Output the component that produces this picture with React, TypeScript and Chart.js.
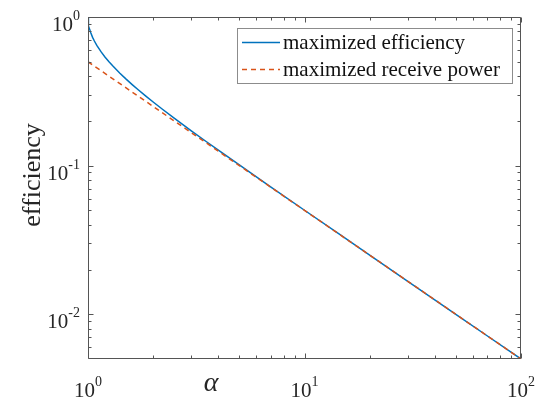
import React, { useEffect, useRef } from "react";
import { Chart, registerables } from "chart.js";

Chart.register(...registerables);

// alpha values and maximized efficiency
const ALPHA_EFF = [1, 1.001, 1.003, 1.005, 1.01, 1.02, 1.03, 1.05, 1.07, 1.1, 1.15, 1.2, 1.25, 1.3, 1.4, 1.5, 1.6, 1.7, 1.85, 2, 2.2, 2.5, 3, 3.5, 4, 5, 7, 10, 15, 20, 30, 50, 70, 100];
const EFF_MAX = [1, 0.9563, 0.9255, 0.9049, 0.8682, 0.819, 0.7832, 0.7298, 0.6893, 0.6417, 0.5821, 0.5367, 0.5, 0.4693, 0.4202, 0.382, 0.351, 0.3252, 0.2936, 0.2679, 0.2404, 0.2087, 0.1716, 0.1459, 0.127, 0.101, 0.0718, 0.0501, 0.0334, 0.025, 0.01667, 0.01, 0.00714, 0.005];

// alpha values and efficiency at maximized receive power
const ALPHA_POW = [1, 1.5, 2, 3, 5, 10, 20, 50, 100];
const POW_MAX = [0.5, 0.3333, 0.25, 0.1667, 0.1, 0.05, 0.025, 0.01, 0.005];

const SERIES_NAMES = ["maximized efficiency", "maximized receive power"];

const X_MAJOR = [1, 10, 100];
const X_MAJOR_EXP = ["0", "1", "2"];
const X_MINOR = [2, 3, 4, 5, 6, 7, 8, 9, 20, 30, 40, 50, 60, 70, 80, 90];
const Y_MAJOR = [0.01, 0.1, 1];
const Y_MAJOR_EXP = ["-2", "-1", "0"];
const Y_MINOR = [0.006, 0.007, 0.008, 0.009, 0.02, 0.03, 0.04, 0.05, 0.06, 0.07, 0.08, 0.09, 0.2, 0.3, 0.4, 0.5, 0.6, 0.7, 0.8, 0.9];

const X_TITLE = "α";
const Y_TITLE = "efficiency";

const BLUE = "#0072BD";
const ORANGE = "#D95319";
const AXIS = "#555555";
const SERIF = "'Liberation Serif', 'Times New Roman', serif";

const matlabPlugin = {
  id: "matlabAxes",
  afterDraw(chart: any) {
    const { ctx, chartArea } = chart;
    const { left, right, top, bottom } = chartArea;
    const xs = chart.scales.x;
    const ys = chart.scales.y;
    ctx.save();
    ctx.strokeStyle = AXIS;
    ctx.lineWidth = 1;
    // box
    const L = Math.round(left) + 0.5;
    const R = Math.round(right) - 0.5;
    const T = Math.round(top) + 0.5;
    const B = Math.round(bottom) - 0.5;
    ctx.beginPath();
    ctx.rect(L, T, R - L, B - T);
    ctx.stroke();
    // ticks
    const xt = (v: number, len: number) => {
      const px = Math.round(xs.getPixelForValue(v)) + 0.5;
      ctx.beginPath();
      ctx.moveTo(px, B);
      ctx.lineTo(px, B - len);
      ctx.moveTo(px, T);
      ctx.lineTo(px, T + len);
      ctx.stroke();
    };
    const yt = (v: number, len: number) => {
      const py = Math.round(ys.getPixelForValue(v)) + 0.5;
      ctx.beginPath();
      ctx.moveTo(L, py);
      ctx.lineTo(L + len, py);
      ctx.moveTo(R, py);
      ctx.lineTo(R - len, py);
      ctx.stroke();
    };
    X_MAJOR.forEach((v) => xt(v, 5));
    X_MINOR.forEach((v) => xt(v, 3));
    Y_MAJOR.forEach((v) => yt(v, 5));
    Y_MINOR.forEach((v) => yt(v, 3));

    // tick labels
    ctx.fillStyle = "#262626";
    ctx.textBaseline = "alphabetic";
    const bigFont = `21px ${SERIF}`;
    const smallFont = `14px ${SERIF}`;
    X_MAJOR.forEach((v, i) => {
      const px = xs.getPixelForValue(v);
      ctx.font = bigFont;
      const w1 = ctx.measureText("10").width;
      ctx.font = smallFont;
      const w2 = ctx.measureText(X_MAJOR_EXP[i]).width;
      const start = px - (w1 + w2) / 2;
      ctx.textAlign = "left";
      ctx.font = bigFont;
      ctx.fillText("10", start, bottom + 38);
      ctx.font = smallFont;
      ctx.fillText(X_MAJOR_EXP[i], start + w1, bottom + 27);
    });
    Y_MAJOR.forEach((v, i) => {
      const py = ys.getPixelForValue(v);
      ctx.font = smallFont;
      const w2 = ctx.measureText(Y_MAJOR_EXP[i]).width;
      ctx.font = bigFont;
      const w1 = ctx.measureText("10").width;
      const end = left - 8;
      ctx.textAlign = "left";
      ctx.fillText("10", end - w2 - w1, py + 14);
      ctx.font = smallFont;
      ctx.fillText(Y_MAJOR_EXP[i], end - w2, py + 3);
    });

    // axis titles
    ctx.textAlign = "center";
    ctx.textBaseline = "middle";
    ctx.font = `italic 28px ${SERIF}`;
    ctx.fillText(X_TITLE, 211, 384);
    ctx.save();
    ctx.translate(33, 175);
    ctx.rotate(-Math.PI / 2);
    ctx.font = `26px ${SERIF}`;
    ctx.fillText(Y_TITLE, 0, 0);
    ctx.restore();

    // legend
    const lx = 237.5, ly = 28.5, lw = 275, lh = 55;
    ctx.fillStyle = "#ffffff";
    ctx.fillRect(lx, ly, lw, lh);
    ctx.strokeStyle = "#8c8c8c";
    ctx.lineWidth = 1;
    ctx.strokeRect(lx, ly, lw, lh);
    const rows = [
      { y: 42.5, color: BLUE, dash: [] as number[] },
      { y: 69.5, color: ORANGE, dash: [5, 4] },
    ];
    rows.forEach((r, i) => {
      ctx.strokeStyle = r.color;
      ctx.lineWidth = 1.3;
      ctx.setLineDash(r.dash);
      ctx.beginPath();
      ctx.moveTo(242, r.y);
      ctx.lineTo(280, r.y);
      ctx.stroke();
      ctx.setLineDash([]);
      ctx.fillStyle = "#111111";
      ctx.font = `21px ${SERIF}`;
      ctx.textAlign = "left";
      ctx.textBaseline = "middle";
      ctx.fillText(SERIES_NAMES[i], 283, r.y + 1);
    });
    ctx.restore();
  },
};

export default function App() {
  const ref = useRef<HTMLCanvasElement>(null);
  useEffect(() => {
    if (!ref.current) return;
    const chart = new Chart(ref.current, {
      type: "line",
      data: {
        datasets: [
          {
            label: SERIES_NAMES[0],
            data: ALPHA_EFF.map((a, i) => ({ x: a, y: EFF_MAX[i] })),
            borderColor: BLUE,
            borderWidth: 1.5,
            pointRadius: 0,
            tension: 0,
            order: 1,
          },
          {
            label: SERIES_NAMES[1],
            data: ALPHA_POW.map((a, i) => ({ x: a, y: POW_MAX[i] })),
            borderColor: ORANGE,
            borderWidth: 1.5,
            borderDash: [5, 4],
            pointRadius: 0,
            tension: 0,
            order: 0,
          },
        ],
      },
      options: {
        animation: false,
        responsive: true,
        maintainAspectRatio: false,
        layout: { padding: { top: 17, right: 30, left: 0, bottom: 0 } },
        plugins: { legend: { display: false }, tooltip: { enabled: false } },
        events: [],
        scales: {
          x: {
            type: "logarithmic",
            min: 1,
            max: 100,
            ticks: { display: false },
            grid: { display: false },
            border: { display: false },
            afterFit: (s: any) => {
              s.height = 42;
            },
          },
          y: {
            type: "logarithmic",
            min: 0.005,
            max: 1,
            ticks: { display: false },
            grid: { display: false },
            border: { display: false },
            afterFit: (s: any) => {
              s.width = 88;
            },
          },
        },
      },
      plugins: [matlabPlugin],
    });
    return () => chart.destroy();
  }, []);
  return (
    <div style={{ position: "fixed", left: 0, top: 0, width: 551, height: 401, background: "#fff" }}>
      <canvas ref={ref} />
    </div>
  );
}
